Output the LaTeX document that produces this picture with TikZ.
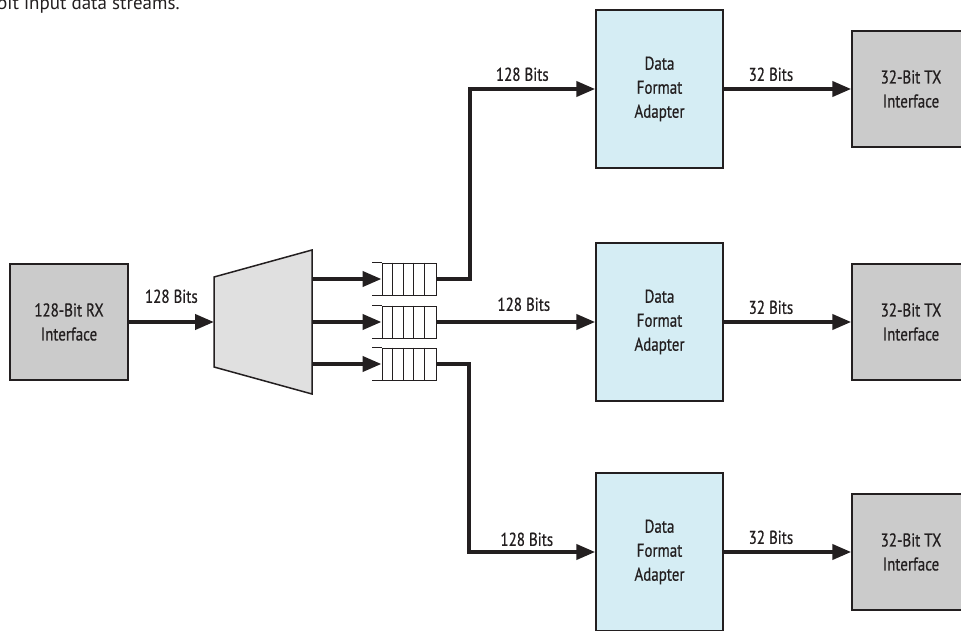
\documentclass[tikz,border=0pt]{standalone}
\usepackage{fontspec}
\setmainfont{PT Sans}[FakeStretch=0.81,FakeBold=0.6]
\newfontfamily\captionfont{PT Sans}
\usetikzlibrary{arrows.meta,positioning}
\definecolor{ink}{HTML}{231F20}
\definecolor{ifacegray}{HTML}{CBCBCB}
\definecolor{adapterblue}{HTML}{D5EDF4}
\definecolor{muxgray}{HTML}{E0E0E0}
\begin{document}
\begin{tikzpicture}[x=1pt,y=-1pt,
  font=\fontsize{18.5}{24}\selectfont, text=ink,
  iface/.style={draw=ink,line width=1.5pt,fill=ifacegray,minimum width=118pt,minimum height=116pt,align=center},
  adapter/.style={draw=ink,line width=1.5pt,fill=adapterblue,minimum width=127pt,minimum height=158pt,align=center},
  fifo/.style={draw=ink,line width=1pt,minimum width=54pt,minimum height=32pt,inner sep=0pt},
  bus/.style={draw=ink,line width=4pt,-{Triangle[length=19pt,width=15pt]}},
  bits/.style={above=#1,inner sep=0pt}, bits/.default=6pt]
\useasboundingbox (0,0) rectangle (961,631);
% cut-off caption above the figure
\node[anchor=base west,inner sep=0pt,font=\captionfont\fontsize{19}{22}\selectfont] (caption) at (-3,10) {bit input data streams.};
% receive side
\node[iface] (rx) at (69,322) {128-Bit RX\\Interface};
\draw[ink,line width=1.5pt,fill=muxgray] (214,277) -- (312,250) -- (312,394) -- (214,367) -- cycle;
\coordinate (muxin) at (214,322);
\draw[bus] (rx) -- (muxin) node[midway,bits=17pt] {128 Bits};
% adapters and transmit side
\foreach \n/\y in {1/89,2/322,3/552} {
  \node[adapter] (dfa\n) at (659.5,\y) {Data\\Format\\Adapter};
  \node[iface] (tx\n) at (911,\y) {32-Bit TX\\Interface};
  \draw[bus] (dfa\n) -- (tx\n) node[pos=0.37,bits] {32 Bits};
}
% fifos behind the demux
\foreach \n/\y in {1/279,2/322,3/364} {
  \coordinate (muxout\n) at (312,\y);
  \node[fifo] (fifo\n) at (409,\y) {};
  \foreach \i in {1,...,4}
    \draw[ink,line width=1pt] (fifo\n.north west) ++(10.8*\i,0) -- ++(0,32);
  \draw[ink,line width=1pt] (fifo\n.north west) -- ++(-10,0) (fifo\n.south west) -- ++(-10,0);
  \draw[bus] (muxout\n) -- (fifo\n);
}
\draw[bus] (fifo1.east) -- ++(33,0) |- (dfa1.west) node[pos=0.71,bits] {128 Bits};
\draw[bus] (fifo2) -- (dfa2) node[pos=0.55,bits=9pt] {128 Bits};
\draw[bus] (fifo3.east) -- ++(32,0) |- (dfa3.west) node[pos=0.73,bits=4pt] {128 Bits};
\end{tikzpicture}
\end{document}
